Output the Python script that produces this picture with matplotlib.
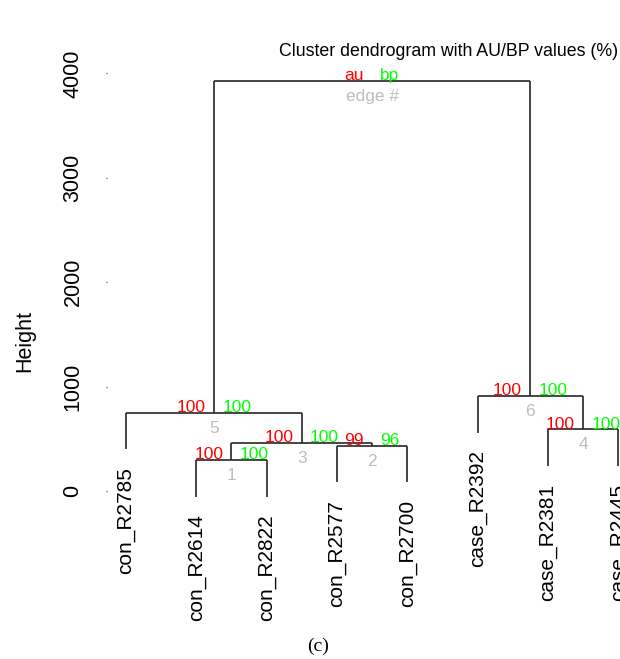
import numpy as np
import matplotlib
matplotlib.use('Agg')
import matplotlib.pyplot as plt
from matplotlib import rcParams

rcParams['font.family'] = ['Liberation Sans', 'DejaVu Sans']

# leaves in plotting order
labels = ['con_R2785', 'con_R2614', 'con_R2822', 'con_R2577', 'con_R2700',
          'case_R2392', 'case_R2381', 'case_R2445']

# hclust-style merges: negative = leaf (1-based), positive = earlier merge
merge = [(-2, -3), (-4, -5), (1, 2), (-7, -8), (-1, 3), (-6, 4), (5, 6)]
heights = [298, 435, 464, 592, 751, 911, 3928]

# pvclust values for edges 1..6 (root gets the legend)
au = [100, 99, 100, 100, 100, 100]
bp = [100, 96, 100, 100, 100, 100]

yticks = [0, 1000, 2000, 3000, 4000]

RED = '#FF0000'
GREEN = '#00FF00'
GREY = '#BEBEBE'
LINE = '#262626'

fig = plt.figure(figsize=(6.2, 6.59), dpi=100)
# axes runs past the right edge, the reference is cropped there
ax = fig.add_axes([0.1692, 0.1439, 0.9639, 0.7763])
ax.set_xlim(0.7, 9.2)
ax.set_ylim(-700, 4200)

hang = 350
gap = 172

node_x = []
leaf_top = {}
for k, (a, b) in enumerate(merge):
    h = heights[k]
    xs = []
    for c in (a, b):
        if c < 0:
            cx = -c
            ch = h - hang
            leaf_top[-c] = ch
        else:
            cx = node_x[c - 1]
            ch = heights[c - 1]
        xs.append(cx)
        ax.plot([cx, cx], [ch, h], color=LINE, lw=1.2, solid_capstyle='butt')
    ax.plot([xs[0], xs[1]], [h, h], color=LINE, lw=1.2, solid_capstyle='butt')
    node_x.append((xs[0] + xs[1]) / 2)

# leaf labels
for i, lab in enumerate(labels, start=1):
    ax.text(i, leaf_top[i] - gap, lab, rotation=90, ha='center', va='top',
            fontsize=15, clip_on=False)

# au / bp / edge numbers
for k in range(len(merge)):
    x, h = node_x[k], heights[k]
    if k < len(au):
        ta, tb, te = str(au[k]), str(bp[k]), str(k + 1)
    else:
        ta, tb, te = 'au', 'bp', 'edge #'
    ax.annotate(ta, (x, h), xytext=(-6, 0.5), textcoords='offset points',
                ha='right', va='baseline', color=RED, fontsize=12.5)
    ax.annotate(tb, (x, h), xytext=(6, 0.5), textcoords='offset points',
                ha='left', va='baseline', color=GREEN, fontsize=12.5)
    ax.annotate(te, (x, h), xytext=(0, -14.5), textcoords='offset points',
                ha='center', va='baseline', color=GREY, fontsize=12.5)

for s in ax.spines.values():
    s.set_visible(False)
ax.spines['left'].set_position(('data', 0.73))
ax.set_xticks([])
ax.set_yticks(yticks)
ax.set_yticklabels([str(t) for t in yticks], rotation=90, va='center', fontsize=15.5)
ax.tick_params(axis='y', length=1, width=1, color='#555555', pad=16)

fig.text(25 / 620, 1 - 341 / 659, 'Height', rotation=90, ha='center', va='center',
         fontsize=15.5)
fig.text(449 / 620, 1 - 52 / 659, 'Cluster dendrogram with AU/BP values (%)',
         ha='center', va='center', fontsize=12.8)
fig.text(318 / 620, 1 - 646 / 659, '(c)', ha='center', va='center',
         fontsize=14, family='Liberation Serif')

fig.savefig('out.png', dpi=100)
